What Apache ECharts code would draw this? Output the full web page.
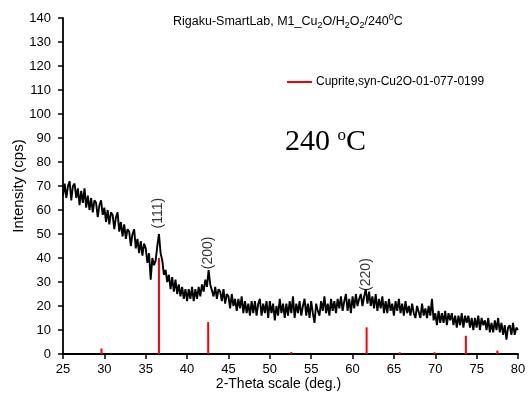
<!DOCTYPE html>
<html>
<head>
<meta charset="utf-8">
<script src="https://cdn.jsdelivr.net/npm/echarts@6/dist/echarts.min.js"></script>
<style>html,body{margin:0;padding:0;background:#fff}#c{width:528px;height:412px}</style>
</head>
<body>
<div id="c"></div>
<script>
// Measured pattern: 2-theta from 25 to 80 deg, step 0.2 deg
var thetaStart = 25;
var thetaStep = 0.2;
var intensity = [
  66, 71, 65, 70, 72,
  64, 70, 71, 65, 69,
  62, 68, 63, 69, 61,
  66, 60, 65, 59, 64,
  63, 57, 62, 64, 58,
  61, 55, 60, 54, 59,
  58, 52, 57, 59, 51,
  55, 49, 54, 48, 52,
  51, 45, 50, 52, 44,
  48, 42, 47, 41, 46,
  44, 38, 42, 31, 40,
  37, 39, 45, 50, 42,
  39, 33, 35, 30, 33,
  27, 32, 26, 31, 25,
  29, 24, 28, 23, 27,
  22, 27, 23, 28, 22,
  27, 23, 28, 24, 29,
  26, 31, 28, 35, 29,
  29, 24, 28, 23, 27,
  26, 22, 27, 21, 25,
  24, 19, 25, 20, 23,
  18, 23, 19, 24, 17,
  22, 17, 21, 16, 22,
  17, 22, 16, 21, 23,
  16, 21, 17, 22, 15,
  22, 17, 21, 14, 20,
  16, 23, 17, 21, 15,
  21, 16, 22, 17, 24,
  15, 21, 17, 22, 16,
  20, 23, 16, 21, 15,
  22, 17, 13, 21, 18,
  16, 22, 18, 24, 17,
  21, 16, 23, 18, 22,
  17, 23, 19, 24, 18,
  22, 25, 18, 23, 17,
  24, 19, 25, 20, 23,
  25, 20, 24, 27, 21,
  26, 20, 24, 19, 25,
  18, 23, 19, 24, 17,
  22, 17, 23, 18, 21,
  16, 22, 18, 23, 17,
  21, 16, 22, 17, 20,
  16, 21, 17, 15, 20,
  20, 15, 21, 16, 19,
  15, 20, 16, 23, 14,
  17, 12, 18, 13, 17,
  13, 18, 12, 17, 14,
  17, 12, 16, 11, 16,
  12, 17, 11, 16, 13,
  16, 11, 15, 10, 15,
  11, 16, 10, 15, 12,
  14, 10, 15, 9, 13,
  9, 14, 10, 15, 9,
  13, 8, 12, 6, 11,
  12, 8, 13, 8, 11,
  10
];
// Reference card (Cuprite) stick positions and heights
var refTheta = [29.65, 36.6, 42.55, 52.6, 61.7, 65.7, 69.9, 73.7, 77.5];
var refHeight = [2.3, 40, 13.3, 0.8, 11.1, 0.7, 0.7, 7.6, 1.4];
// Peak annotations
var peakNames = ['(111)', '(200)', '(220)'];
var peakTheta = [36.55, 42.5, 61.6];
var peakLabelBase = [52.3, 35.3, 26.3];

var trace = intensity.map(function (v, i) {
  return [+(thetaStart + i * thetaStep).toFixed(2), v];
});
var sticks = refTheta.map(function (t, i) { return [t, refHeight[i]]; });
var peaks = peakNames.map(function (n, i) { return { name: n, value: [peakTheta[i], peakLabelBase[i]] }; });

var chart = echarts.init(document.getElementById('c'));
var sans = 'Liberation Sans, Arial, sans-serif';
var axisFont = { fontFamily: sans, color: '#000' };
chart.setOption({
  animation: false,
  backgroundColor: '#fff',
  title: {
    text: 'Rigaku-SmartLab, M1_Cu{sub|2}O/H{sub|2}O{sub|2}/240{sup|0}C',
    left: 173, top: 13, padding: 0,
    textStyle: {
      fontFamily: sans, fontSize: 12.5, fontWeight: 'normal', color: '#000',
      lineHeight: 17,
      rich: {
        sub: { fontSize: 9, lineHeight: 10, verticalAlign: 'bottom', fontFamily: sans, color: '#000' },
        sup: { fontSize: 9, lineHeight: 10, verticalAlign: 'top', fontFamily: sans, color: '#000' }
      }
    }
  },
  legend: {
    data: ['Cuprite,syn-Cu2O-01-077-0199'],
    left: 287, top: 76, padding: 0,
    icon: 'rect', itemWidth: 25, itemHeight: 2, itemGap: 4,
    textStyle: { fontFamily: sans, fontSize: 12, color: '#000', padding: [0, 0, 0, -1] }
  },
  grid: { left: 63, right: 10, top: 18, bottom: 58, outerBoundsMode: 'none', containLabel: false },
  xAxis: {
    type: 'value', min: 25, max: 80, interval: 5,
    name: '2-Theta scale (deg.)', nameLocation: 'middle', nameGap: 23, nameMoveOverlap: false,
    nameTextStyle: Object.assign({ fontSize: 14, padding: [0, 24, 0, 0] }, axisFont),
    axisLine: { show: true, lineStyle: { color: '#000', width: 1.8 } },
    axisTick: { show: true, length: 5, lineStyle: { color: '#000', width: 1.5 } },
    axisLabel: Object.assign({ fontSize: 13, margin: 9, showMaxLabel: true, showMinLabel: true }, axisFont),
    splitLine: { show: false }
  },
  yAxis: {
    type: 'value', min: 0, max: 140, interval: 10,
    name: 'Intensity (cps)', nameLocation: 'middle', nameGap: 37, nameRotate: 90, nameMoveOverlap: false,
    nameTextStyle: Object.assign({ fontSize: 15 }, axisFont),
    axisLine: { show: true, lineStyle: { color: '#000', width: 1.8 } },
    axisTick: { show: true, length: 5, lineStyle: { color: '#000', width: 1.5 } },
    axisLabel: Object.assign({ fontSize: 13, margin: 12 }, axisFont),
    splitLine: { show: false }
  },
  series: [
    {
      name: 'Cuprite,syn-Cu2O-01-077-0199', type: 'bar', barWidth: 2,
      itemStyle: { color: '#ff0000' }, data: sticks, z: 3
    },
    {
      name: 'pattern', type: 'line', data: trace, showSymbol: false, symbol: 'none',
      lineStyle: { color: '#000', width: 1.9 }, z: 2
    },
    {
      name: 'peaks', type: 'scatter', data: peaks, symbolSize: 0, silent: true,
      label: {
        show: true, formatter: '{b}', position: 'top', distance: 0, rotate: 90,
        align: 'left', verticalAlign: 'middle',
        fontFamily: sans, fontSize: 14, color: '#000'
      }, z: 4
    }
  ],
  graphic: [
    {
      type: 'text', left: 285, top: 127,
      style: {
        text: '240 {sup|o}C',
        fontFamily: 'Liberation Serif, Times New Roman, serif', fontSize: 30, fill: '#000',
        rich: { sup: { fontSize: 17, verticalAlign: 'top', lineHeight: 20, fontFamily: 'Liberation Serif, Times New Roman, serif', fill: '#000' } }
      }
    }
  ]
});
</script>
</body>
</html>
